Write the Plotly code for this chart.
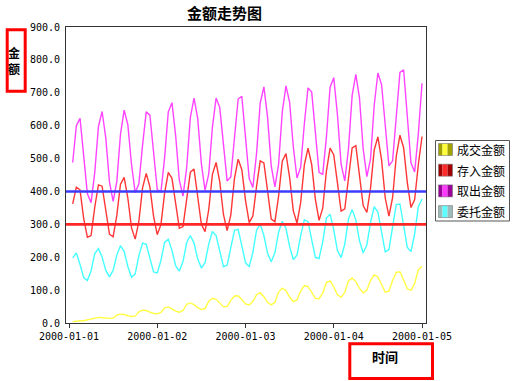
import pandas as pd
import plotly.graph_objects as go

# ---- data ----
times = pd.date_range("2000-01-01 01:00", periods=96, freq="h")

series_names = ["成交金额", "存入金额", "取出金额", "委托金额"]

deal_amount = [  # 成交金额 (yellow)
    4, 6, 7, 7, 9, 11,
    15, 17, 16, 14, 14, 15,
    24, 27, 26, 22, 20, 21,
    34, 39, 38, 33, 29, 28, 32,
    46, 49, 43, 36, 33, 38,
    57, 61, 56, 47, 41, 44,
    66, 75, 72, 59, 49, 50,
    69, 82, 83, 71, 58, 55, 65,
    86, 92, 80, 63, 55, 63,
    94, 106, 98, 79, 65, 70,
    97, 114, 111, 93, 75, 74, 91,
    123, 128, 110, 86, 78, 93,
    128, 137, 126, 105, 92, 100,
    129, 146, 140, 115, 94, 97,
    129, 154, 156, 131, 104, 99, 120,
    162, 172,
]

deposit_amount = [  # 存入金额 (red)
    362, 413, 405, 317, 261, 266,
    352, 420, 416, 344, 270, 262, 327,
    422, 443, 380, 289, 255, 309,
    411, 455, 414, 324, 269, 299,
    395, 458, 440, 359, 288, 293,
    373, 459, 468, 391, 300, 278, 345,
    452, 488, 429, 330, 281, 328,
    440, 498, 466, 373, 305, 325,
    415, 493, 487, 402, 316, 308, 386,
    492, 515, 442, 341, 304, 366,
    481, 532, 482, 376, 312, 349,
    462, 532, 511, 419, 340, 347,
    440, 532, 539, 455, 357, 336, 410,
    526, 566, 496, 380, 325, 381,
    507, 571, 533, 427, 351, 375,
    482, 567,
]

withdraw_amount = [  # 取出金额 (magenta)
    488, 600, 622, 513, 393, 366, 457,
    597, 643, 563, 429, 370, 430,
    574, 647, 603, 482, 396, 423,
    540, 642, 632, 518, 406, 398, 502,
    642, 670, 570, 434, 386, 472,
    625, 684, 622, 484, 403, 453,
    595, 684, 655, 534, 432, 444,
    557, 681, 689, 573, 440, 412, 515,
    669, 718, 626, 477, 414, 483,
    642, 721, 671, 536, 441, 474,
    606, 715, 702, 578, 458, 452, 565,
    717, 746, 633, 482, 432, 529,
    692, 756, 684, 529, 445, 499,
    662, 760, 725, 589, 478, 493,
    621, 762, 770, 633, 487, 459, 575,
    729,
]

entrust_amount = [  # 委托金额 (cyan)
    198, 213, 178, 138, 129, 159,
    211, 226, 201, 160, 140, 160,
    207, 235, 218, 172, 139, 149,
    205, 243, 239, 197, 155, 152, 190,
    245, 255, 221, 174, 158, 187,
    244, 266, 243, 195, 167, 184,
    240, 278, 266, 215, 171, 176,
    231, 282, 285, 238, 183, 172, 214,
    282, 300, 266, 212, 186, 214,
    276, 309, 288, 232, 193, 206,
    266, 314, 308, 253, 199, 196, 247,
    319, 331, 283, 220, 199, 240,
    316, 345, 313, 250, 213, 237,
    306, 354, 337, 270, 216, 223,
    292, 360, 362, 298, 230, 217, 271,
    354, 377,
]

marker_values = [400, 300]
marker_colors = ["#3c3cff", "#ff2626"]

x_ticks = ["2000-01-01", "2000-01-02", "2000-01-03", "2000-01-04", "2000-01-05"]

line_colors = ["#ffff44", "#ff3636", "#ff44ff", "#44ffff"]
swatch_dark = ["#a3a300", "#a00000", "#9a009a", "#9cbcbc"]
swatch_bright = ["#ffff3a", "#ff2a2a", "#ff3aff", "#5cffff"]

all_series = [deal_amount, deposit_amount, withdraw_amount, entrust_amount]

# ---- layout geometry (pixels) ----
W, H = 519, 381
L, R, T, B = 66, 426, 27, 323


def px(xp):
    return (xp - L) / (R - L)


def py(yp):
    return (B - yp) / (B - T)


fig = go.Figure()
for name, vals, col in zip(series_names, all_series, line_colors):
    fig.add_trace(go.Scatter(x=times, y=vals, mode="lines", name=name,
                             line=dict(color=col, width=1.4), showlegend=False))

shapes = []
for v, c in zip(marker_values, marker_colors):
    shapes.append(dict(type="line", xref="paper", x0=0, x1=1, yref="y", y0=v, y1=v,
                       line=dict(color=c, width=2.6), layer="above"))

# custom legend box
shapes.append(dict(type="rect", xref="paper", yref="paper",
                   x0=px(435.5), x1=px(509.5), y0=py(221), y1=py(140.5),
                   line=dict(color="#555555", width=1), fillcolor="white", layer="above"))
annotations = []
row_y = [149.5, 170.2, 190.9, 211.6]
for i, name in enumerate(series_names):
    cy = row_y[i]
    x0 = 438.5
    strips = [(0, 4, swatch_dark[i]), (4, 9, swatch_bright[i]), (9, 14, swatch_dark[i])]
    for a, b, c in strips:
        shapes.append(dict(type="rect", xref="paper", yref="paper",
                           x0=px(x0 + a), x1=px(x0 + b), y0=py(cy + 6), y1=py(cy - 6),
                           line=dict(width=0), fillcolor=c, layer="above"))
    shapes.append(dict(type="rect", xref="paper", yref="paper",
                       x0=px(x0), x1=px(x0 + 14), y0=py(cy + 6), y1=py(cy - 6),
                       line=dict(color="#777777", width=0.6), layer="above"))
    annotations.append(dict(text=name, xref="paper", yref="paper", x=px(455), y=py(cy),
                            xanchor="left", yanchor="middle", showarrow=False,
                            font=dict(family="Noto Sans CJK SC", size=12, color="black")))

# red highlight boxes
shapes.append(dict(type="rect", xref="paper", yref="paper",
                   x0=px(7.2), x1=px(25.2), y0=py(91.2), y1=py(29.8),
                   line=dict(color="#ff0000", width=3)))
shapes.append(dict(type="rect", xref="paper", yref="paper",
                   x0=px(349.8), x1=px(432.5), y0=py(378.5), y1=py(343.8),
                   line=dict(color="#ff0000", width=3)))

# titles
annotations.append(dict(text="<b>金额走势图</b>", xref="paper", yref="paper", x=px(224), y=py(12),
                        xanchor="center", yanchor="middle", showarrow=False,
                        font=dict(family="Noto Sans CJK SC", size=15, color="black")))
annotations.append(dict(text="<b>金<br>额</b>", xref="paper", yref="paper", x=px(14), y=py(60),
                        xanchor="center", yanchor="middle", showarrow=False,
                        font=dict(family="Noto Sans CJK SC", size=12, color="black")))
annotations.append(dict(text="<b>时间</b>", xref="paper", yref="paper", x=px(384.5), y=py(356),
                        xanchor="center", yanchor="middle", showarrow=False,
                        font=dict(family="Noto Sans CJK SC", size=13, color="black")))

fig.update_layout(
    width=W, height=H, autosize=False,
    margin=dict(l=L, r=W - R, t=T, b=H - B, pad=0),
    paper_bgcolor="white", plot_bgcolor="white",
    showlegend=False,
    shapes=shapes, annotations=annotations,
    xaxis=dict(type="date", range=["1999-12-31 23:11", "2000-01-05 01:05"],
               tickvals=x_ticks, ticktext=x_ticks,
               ticks="outside", ticklen=4, tickcolor="#333333", tickwidth=1,
               showgrid=False, zeroline=False,
               showline=True, mirror=True, linecolor="#333333", linewidth=1,
               tickfont=dict(family="DejaVu Sans Mono", size=10, color="black")),
    yaxis=dict(range=[0, 900], tick0=0, dtick=100, tickformat=".1f",
               ticks="outside", ticklen=3, tickcolor="rgba(0,0,0,0)",
               showgrid=False, zeroline=False,
               showline=True, mirror=True, linecolor="#333333", linewidth=1,
               tickfont=dict(family="DejaVu Sans Mono", size=10, color="black")),
)

fig.write_html("out.html", config={"displayModeBar": False},
               post_script="document.body.style.margin='0';")
